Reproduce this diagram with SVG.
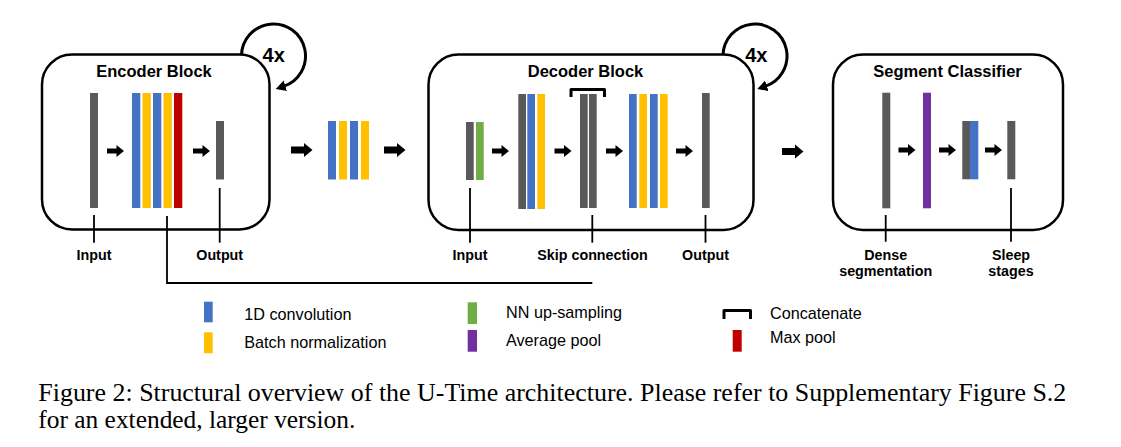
<svg xmlns="http://www.w3.org/2000/svg" width="1121" height="447" viewBox="0 0 1121 447">
<style>
.box{fill:#fff;stroke:#000;stroke-width:2.5}
.loop{fill:none;stroke:#000;stroke-width:3}
.g{fill:#595959}.b{fill:#4472C4}.y{fill:#FFC000}.r{fill:#C00000}.gr{fill:#70AD47}.p{fill:#7030A0}
.ln{stroke:#000;stroke-width:1.8;fill:none}
.br{stroke:#000;stroke-width:3;fill:none;stroke-linejoin:round}
.ttl{font-family:"Liberation Sans",Arial,sans-serif;font-weight:bold;font-size:16.5px;text-anchor:middle}
.lbl{font-family:"Liberation Sans",Arial,sans-serif;font-weight:bold;font-size:14.3px;text-anchor:middle}
.rep{font-family:"Liberation Sans",Arial,sans-serif;font-weight:bold;font-size:20px;text-anchor:middle}
.leg{font-family:"Liberation Sans",Arial,sans-serif;font-size:16.2px}
.cap{font-family:"Liberation Serif","Times New Roman",serif;font-size:25.6px}
</style>
<defs>
<marker id="ah" markerUnits="userSpaceOnUse" markerWidth="12" markerHeight="12" refX="2" refY="5.5" orient="auto">
<path d="M0,0 L10,5.5 L0,11 z" fill="#000"/>
</marker>
<path id="sa" d="M0,-2.5 H9.5 V-6 L17,0 L9.5,6 V2.5 H0 z" fill="#000"/>
<path id="ba" d="M0,-3.5 H13 V-7 L21.5,0 L13,7 V3.5 H0 z" fill="#000"/>
</defs>

<g id="loops">
<path class="loop" d="M241.5,56 A32,32 0 1 1 283.4,86.4" marker-end="url(#ah)"/>
<path class="loop" d="M723,56 A32,32 0 1 1 764.9,86.4" marker-end="url(#ah)"/>
</g>

<g id="encoder">
<rect class="box" x="42" y="54.5" width="227.5" height="175" rx="30"/>
<text class="ttl" x="154" y="76.5">Encoder Block</text>
<rect class="g" x="90" y="93" width="8" height="115"/>
<rect class="b" x="132" y="93" width="8.3" height="115"/>
<rect class="y" x="142.5" y="93" width="8.3" height="115"/>
<rect class="b" x="153" y="93" width="8.3" height="115"/>
<rect class="y" x="163.5" y="93" width="8.3" height="115"/>
<rect class="r" x="174" y="93" width="8.3" height="115"/>
<rect class="g" x="216" y="121" width="8" height="58.5"/>
<use href="#sa" x="107" y="151"/>
<use href="#sa" x="193" y="151"/>
<text class="rep" x="273.7" y="61.7">4x</text>
</g>

<g id="bottleneck">
<rect class="b" x="328" y="121" width="8" height="58.5"/>
<rect class="y" x="339" y="121" width="8" height="58.5"/>
<rect class="b" x="350" y="121" width="8" height="58.5"/>
<rect class="y" x="361" y="121" width="8" height="58.5"/>
</g>

<g id="decoder">
<rect class="box" x="428.5" y="54.5" width="325" height="175.5" rx="30"/>
<text class="ttl" x="585.5" y="76.5">Decoder Block</text>
<rect class="g" x="466" y="122" width="7.7" height="58"/>
<rect class="gr" x="476" y="122" width="7.7" height="58"/>
<rect class="g" x="518.3" y="94" width="7.7" height="115"/>
<rect class="b" x="527.3" y="94" width="7.7" height="115"/>
<rect class="y" x="537.3" y="94" width="7.7" height="115"/>
<rect class="g" x="580" y="94" width="7.7" height="114"/>
<rect class="g" x="589" y="94" width="7.7" height="114"/>
<path class="br" d="M571,97 V89.5 H604.5 V97"/>
<rect class="b" x="629" y="94" width="7.7" height="114"/>
<rect class="y" x="639.3" y="94" width="7.7" height="114"/>
<rect class="b" x="650" y="94" width="7.7" height="114"/>
<rect class="y" x="660" y="94" width="7.7" height="114"/>
<rect class="g" x="702" y="93" width="7.7" height="115"/>
<use href="#sa" x="492" y="151"/>
<use href="#sa" x="554.5" y="151"/>
<use href="#sa" x="606" y="151"/>
<use href="#sa" x="676" y="151"/>
<text class="rep" x="756.3" y="61.7">4x</text>
</g>

<g id="classifier">
<rect class="box" x="833" y="54.5" width="230" height="175.5" rx="30"/>
<text class="ttl" x="947.5" y="76.5">Segment Classifier</text>
<rect class="g" x="882.3" y="92.7" width="8" height="115.6"/>
<rect class="p" x="923" y="92.7" width="8" height="115.6"/>
<rect class="g" x="962.3" y="121" width="7.7" height="58.3"/>
<rect class="b" x="970" y="121" width="8.3" height="58.3"/>
<rect class="g" x="1007.3" y="121" width="8" height="58.3"/>
<use href="#sa" x="898.5" y="150"/>
<use href="#sa" x="939" y="150"/>
<use href="#sa" x="985" y="150"/>
</g>

<g id="connectors">
<use href="#ba" x="291" y="150"/>
<use href="#ba" x="384" y="150"/>
<use href="#ba" x="782" y="151.5"/>
<path class="ln" d="M94,215 V242.7"/>
<path class="ln" d="M219.7,188 V242.7"/>
<path class="ln" d="M167,216 V283 H592.3"/>
<path class="ln" d="M470,188 V242.7"/>
<path class="ln" d="M592.3,215 V242.7"/>
<path class="ln" d="M705.5,215 V242.7"/>
<path class="ln" d="M885.7,215 V241.7"/>
<path class="ln" d="M1011,188 V241.7"/>
</g>

<g id="labels">
<text class="lbl" x="94" y="260">Input</text>
<text class="lbl" x="219.7" y="260">Output</text>
<text class="lbl" x="470" y="260">Input</text>
<text class="lbl" x="592.5" y="260">Skip connection</text>
<text class="lbl" x="705.5" y="260">Output</text>
<text class="lbl" x="885.7" y="260">Dense</text>
<text class="lbl" x="885.7" y="275.5">segmentation</text>
<text class="lbl" x="1011" y="260">Sleep</text>
<text class="lbl" x="1011" y="275.5">stages</text>
</g>

<g id="legend">
<rect class="b" x="204" y="301.7" width="8.7" height="20.6"/>
<text class="leg" x="244.3" y="320">1D convolution</text>
<rect class="y" x="204" y="332.3" width="8.7" height="21"/>
<text class="leg" x="244.3" y="347.5">Batch normalization</text>
<rect class="gr" x="467.7" y="302.3" width="9.3" height="21.7"/>
<text class="leg" x="506" y="318">NN up-sampling</text>
<rect class="p" x="467.7" y="330" width="9.3" height="21.7"/>
<text class="leg" x="506" y="345.8">Average pool</text>
<path class="br" d="M724,319 V310.5 H750.5 V319"/>
<text class="leg" x="770" y="319">Concatenate</text>
<rect class="r" x="732.7" y="330" width="9" height="21.7"/>
<text class="leg" x="770" y="342.5">Max pool</text>
</g>

<g id="caption">
<text class="cap" x="38.3" y="400.7" textLength="1028" lengthAdjust="spacingAndGlyphs">Figure 2: Structural overview of the U-Time architecture. Please refer to Supplementary Figure S.2</text>
<text class="cap" x="38.3" y="428.3" textLength="317" lengthAdjust="spacingAndGlyphs">for an extended, larger version.</text>
</g>
</svg>
